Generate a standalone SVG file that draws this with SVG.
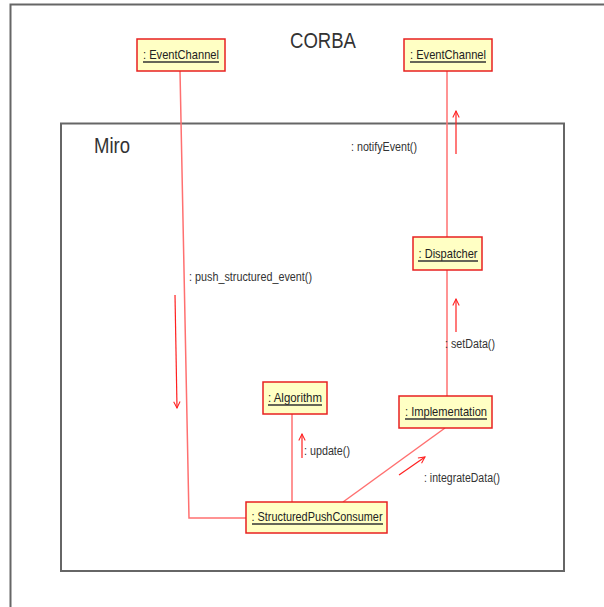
<svg xmlns="http://www.w3.org/2000/svg" width="604" height="607" viewBox="0 0 604 607">
<defs>
<style>
.frame{fill:none;stroke:#666;stroke-width:2}
.node rect{fill:#ffffc4;stroke:#e82020;stroke-width:1.5}
.node text{font-family:"Liberation Sans",Arial,sans-serif;font-size:13px;fill:#222;text-anchor:middle}
.node line{stroke:#333;stroke-width:1.5}
.link{stroke:#ff7070;stroke-width:1.5;fill:none}
.msg{stroke:#ff2020;stroke-width:1.2;fill:none}
.lbl{font-family:"Liberation Sans",Arial,sans-serif;font-size:12px;fill:#333}
.title{font-family:"Liberation Sans",Arial,sans-serif;font-size:22px;fill:#333}
</style>
<marker id="open" viewBox="0 0 10 10" refX="9" refY="5" markerWidth="8" markerHeight="8" orient="auto" markerUnits="userSpaceOnUse">
<path d="M1,1 L9,5 L1,9" fill="none" stroke="#ff2020" stroke-width="1.3"/>
</marker>
</defs>
<rect width="604" height="607" fill="#fff"/>
<path class="frame" d="M10.5,607 V4.5 H604"/>
<rect class="frame" x="61" y="123.5" width="503" height="447.5"/>
<text class="title" x="290" y="48" textLength="66" lengthAdjust="spacingAndGlyphs">CORBA</text>
<text class="title" x="94" y="153" textLength="36" lengthAdjust="spacingAndGlyphs">Miro</text>

<g id="connectors">
<path class="link" d="M180,71 L189,518 H246"/>
<line class="link" x1="447" y1="71" x2="447" y2="237"/>
<line class="link" x1="447" y1="270" x2="447" y2="396"/>
<line class="link" x1="292" y1="414" x2="292" y2="502"/>
<line class="link" x1="445" y1="428" x2="343" y2="502"/>
<line class="msg" x1="175" y1="295" x2="177" y2="408" marker-end="url(#open)"/>
<line class="msg" x1="456" y1="154" x2="456" y2="111" marker-end="url(#open)"/>
<line class="msg" x1="456" y1="332" x2="456" y2="299" marker-end="url(#open)"/>
<line class="msg" x1="302" y1="458" x2="302" y2="434" marker-end="url(#open)"/>
<line class="msg" x1="399" y1="475" x2="425" y2="457" marker-end="url(#open)"/>
<text class="lbl" x="189" y="281" textLength="123" lengthAdjust="spacingAndGlyphs">: push_structured_event()</text>
<text class="lbl" x="351" y="151" textLength="66" lengthAdjust="spacingAndGlyphs">: notifyEvent()</text>
<text class="lbl" x="445" y="348" textLength="50" lengthAdjust="spacingAndGlyphs">: setData()</text>
<text class="lbl" x="304" y="455" textLength="46" lengthAdjust="spacingAndGlyphs">: update()</text>
<text class="lbl" x="424" y="482" textLength="76" lengthAdjust="spacingAndGlyphs">: integrateData()</text>
</g>

<g id="eventchannel1" class="node">
<rect x="137" y="39" width="88" height="32"/>
<text x="181" y="59" textLength="76" lengthAdjust="spacingAndGlyphs">: EventChannel</text>
<line x1="143" y1="62" x2="219" y2="62"/>
</g>
<g id="eventchannel2" class="node">
<rect x="404" y="39" width="88" height="32"/>
<text x="448" y="59" textLength="76" lengthAdjust="spacingAndGlyphs">: EventChannel</text>
<line x1="410" y1="62" x2="486" y2="62"/>
</g>
<g id="dispatcher" class="node">
<rect x="413" y="237" width="69" height="33"/>
<text x="448" y="258" textLength="59" lengthAdjust="spacingAndGlyphs">: Dispatcher</text>
<line x1="418" y1="261" x2="478" y2="261"/>
</g>
<g id="algorithm" class="node">
<rect x="263" y="382" width="64" height="32"/>
<text x="295" y="402" textLength="54" lengthAdjust="spacingAndGlyphs">: Algorithm</text>
<line x1="268" y1="405" x2="322" y2="405"/>
</g>
<g id="implementation" class="node">
<rect x="399" y="396" width="93" height="32"/>
<text x="446" y="416" textLength="82" lengthAdjust="spacingAndGlyphs">: Implementation</text>
<line x1="405" y1="419" x2="487" y2="419"/>
</g>
<g id="structuredpushconsumer" class="node">
<rect x="246" y="502" width="141" height="31"/>
<text x="317" y="521" textLength="131" lengthAdjust="spacingAndGlyphs">: StructuredPushConsumer</text>
<line x1="252" y1="524" x2="383" y2="524"/>
</g>
</svg>
